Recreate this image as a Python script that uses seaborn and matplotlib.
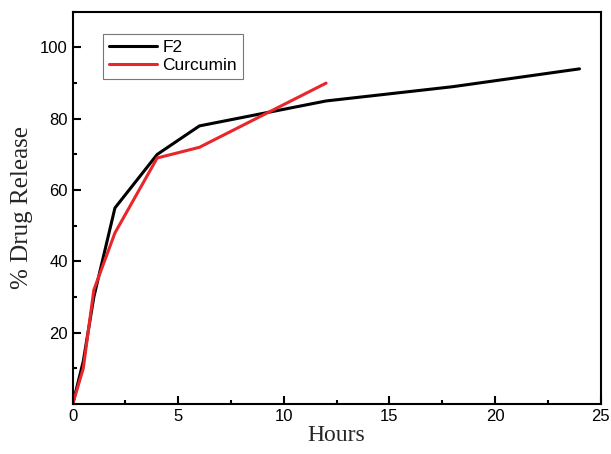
import pandas as pd
import matplotlib
matplotlib.use("Agg")
import matplotlib.pyplot as plt
import seaborn as sns
from matplotlib.ticker import MultipleLocator

# release data
hours_f2 = [0, 0.5, 1, 2, 4, 6, 12, 18, 24]
release_f2 = [0, 12, 30, 55, 70, 78, 85, 89, 94]
hours_cur = [0, 0.5, 1, 2, 4, 6, 12]
release_cur = [0, 10, 32, 48, 69, 72, 90]

df = pd.concat([
    pd.DataFrame({"Hours": hours_f2, "Release": release_f2, "Sample": "F2"}),
    pd.DataFrame({"Hours": hours_cur, "Release": release_cur, "Sample": "Curcumin"}),
])

sns.set_style("ticks")
plt.rcParams["font.family"] = ["Liberation Sans", "DejaVu Sans"]
plt.rcParams["text.color"] = "black"
plt.rcParams["xtick.color"] = "black"
plt.rcParams["ytick.color"] = "black"

fig = plt.figure(figsize=(6.11, 4.54), dpi=100)
ax = fig.add_axes([0.119, 0.110, 0.864, 0.864])

sns.lineplot(data=df, x="Hours", y="Release", hue="Sample",
             palette={"F2": "black", "Curcumin": "#e8262b"},
             linewidth=2.2, ax=ax, legend=True)

ax.set_xlim(0, 25)
ax.set_ylim(0, 110)
ax.xaxis.set_major_locator(MultipleLocator(5))
ax.xaxis.set_minor_locator(MultipleLocator(2.5))
ax.yaxis.set_major_locator(MultipleLocator(20))
ax.yaxis.set_minor_locator(MultipleLocator(10))
ax.set_yticks([20, 40, 60, 80, 100])
ax.tick_params(which="major", direction="in", length=6, width=1.5, labelsize=12)
ax.tick_params(which="minor", direction="in", length=3, width=1.5)
for s in ax.spines.values():
    s.set_linewidth(1.5)
    s.set_color("black")

ax.set_xlabel("Hours", family=["Liberation Serif"], fontsize=17, labelpad=1)
ax.set_ylabel("% Drug Release", family=["Liberation Serif"], fontsize=18, labelpad=5)

leg = ax.legend(loc="upper left", bbox_to_anchor=(0.04, 0.965), fontsize=12.5,
                frameon=True, fancybox=False, handlelength=2.8,
                borderpad=0.35, labelspacing=0.15, handletextpad=0.3)
leg.get_frame().set_edgecolor("#555555")
leg.get_frame().set_linewidth(0.8)

fig.savefig("out.png", dpi=100)
